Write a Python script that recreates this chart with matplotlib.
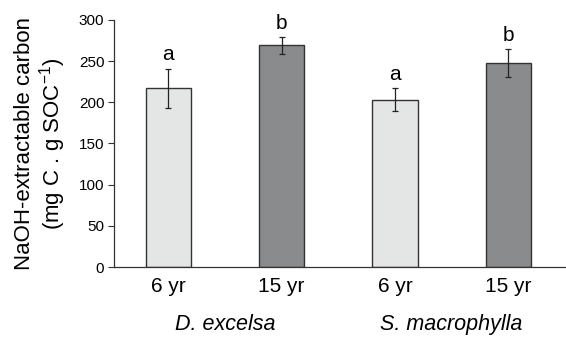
import matplotlib.pyplot as plt

plt.rcParams['font.family'] = ['Liberation Sans', 'DejaVu Sans']
plt.rcParams['mathtext.fontset'] = 'custom'
plt.rcParams['mathtext.rm'] = 'Liberation Sans'

# data
ages = ['6 yr', '15 yr', '6 yr', '15 yr']
species = ['D. excelsa', 'S. macrophylla']
values = [217, 269, 203, 248]
errors = [24, 10, 14, 17]
letters = ['a', 'b', 'a', 'b']
colors = ['#e4e5e5', '#8a8b8d', '#e4e5e5', '#8a8b8d']

fig = plt.figure(figsize=(5.66, 3.38), dpi=100)
ax = fig.add_axes([0.2014, 0.21, 0.7986, 0.731])

x = list(range(len(values)))
ax.bar(x, values, width=0.4, color=colors, edgecolor='#333333', linewidth=1.0,
       yerr=errors, capsize=2.5, error_kw=dict(ecolor='#222222', elinewidth=0.9, capthick=0.9))

for xi, v, e, l in zip(x, values, errors, letters):
    ax.text(xi, v + e + 5, l, ha='center', va='bottom', fontsize=15)

ax.set_xlim(-0.48, 3.51)
ax.set_ylim(0, 300)
ax.set_yticks(range(0, 301, 50))
ax.tick_params(axis='y', labelsize=11, length=4, width=0.8, color='#333333', pad=3)
ax.set_xticks(x)
ax.set_xticklabels(ages, fontsize=15)
ax.tick_params(axis='x', length=0, pad=7)

for s in ['top', 'right']:
    ax.spines[s].set_visible(False)
for s in ['left', 'bottom']:
    ax.spines[s].set_color('#333333')
    ax.spines[s].set_linewidth(0.9)

for i, sp in enumerate(species):
    ax.text(2 * i + 0.5, -0.19, sp, transform=ax.get_xaxis_transform(),
            ha='center', va='top', fontsize=15.5, style='italic')

ax.set_ylabel('NaOH-extractable carbon\n(mg C . g SOC$^{-1}$)', fontsize=16,
              linespacing=1.1, labelpad=8)

fig.savefig('out.png', dpi=100)
